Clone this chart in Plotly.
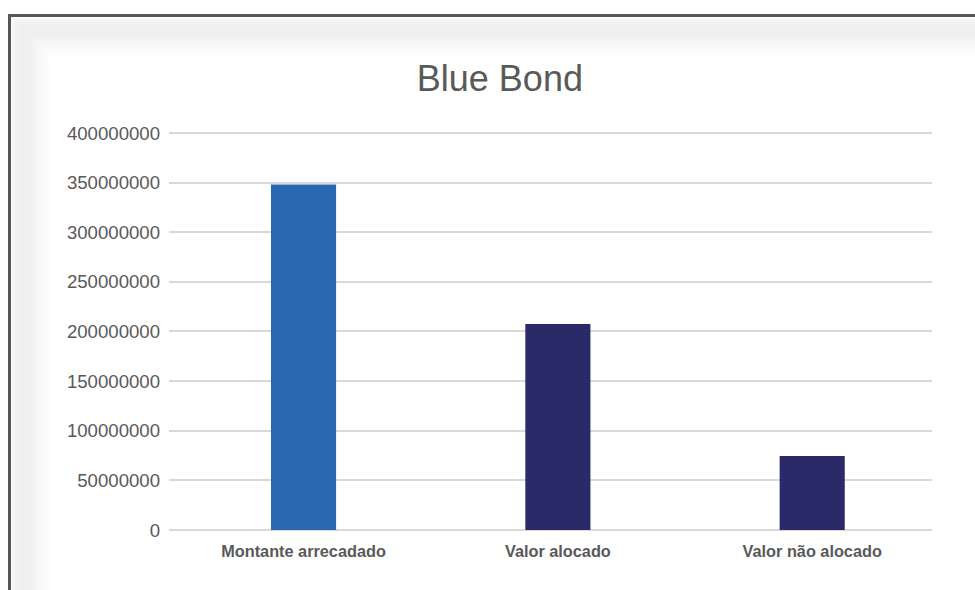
import plotly.graph_objects as go

categories = ["Montante arrecadado", "Valor alocado", "Valor não alocado"]
values = [348000000, 207500000, 74500000]
bar_colors = ["#2A68B1", "#2B2A69", "#2B2A69"]
y_ticks = [0, 50000000, 100000000, 150000000, 200000000, 250000000, 300000000, 350000000, 400000000]
y_tick_labels = [str(v) for v in y_ticks]
y_max = 402000000

W, H = 975, 590
L, R, T, B = 169, 932, 131, 530

def px(x):
    return (x - L) / (R - L)

def py(y):
    return (B - y) / (B - T)

fig = go.Figure()
fig.add_trace(go.Bar(
    x=[0, 1, 2], y=values, marker=dict(color=bar_colors, line=dict(width=0)),
    width=0.256, hoverinfo="skip"
))

def deficit(d):
    if d < 3:
        return 4 + d * 2.5
    if d < 10:
        return 11.5 + (d - 3) * 0.6
    if d < 18:
        return 15.5
    if d < 42:
        return 15.5 * (1 - (d - 18) / 24) ** 1.4
    return 0

shapes = []
N = 42
for i in range(N):
    g = int(round(255 - deficit(i)))
    col = f"rgb({g},{g},{g})"
    shapes.append(dict(type="line", xref="paper", yref="paper", layer="below",
                       x0=px(11.5 + i), x1=px(11.5 + i), y0=py(17 + i), y1=py(600),
                       line=dict(color=col, width=1)))
    shapes.append(dict(type="line", xref="paper", yref="paper", layer="below",
                       x0=px(11 + i), x1=px(985), y0=py(17.5 + i), y1=py(17.5 + i),
                       line=dict(color=col, width=1)))
# frame
shapes.append(dict(type="line", xref="paper", yref="paper",
                   x0=px(8), x1=px(985), y0=py(15.5), y1=py(15.5),
                   line=dict(color="#575757", width=3)))
shapes.append(dict(type="line", xref="paper", yref="paper",
                   x0=px(9.5), x1=px(9.5), y0=py(14), y1=py(600),
                   line=dict(color="#575757", width=3)))

font = "Liberation Sans, Arial, sans-serif"
fig.update_layout(
    width=W, height=H,
    margin=dict(l=L, r=W - R, t=T, b=H - B),
    paper_bgcolor="rgba(0,0,0,0)", plot_bgcolor="rgba(0,0,0,0)",
    showlegend=False,
    shapes=shapes,
    title=dict(text="Blue Bond", x=0.5127, xanchor="center", y=1 - 78 / H, yanchor="middle",
               font=dict(family=font, size=36, color="#595959")),
    xaxis=dict(
        tickmode="array", tickvals=[0, 1, 2], ticktext=[f"<b>{c}</b>" for c in categories],
        range=[-0.529, 2.471], showgrid=False, zeroline=False, showline=False, ticks="",
        ticklabelstandoff=10,
        tickfont=dict(family=font, size=16.3, color="#595959"),
        fixedrange=True,
    ),
    yaxis=dict(
        tickmode="array", tickvals=y_ticks, ticktext=y_tick_labels,
        range=[0, y_max], showgrid=True, gridcolor="#d9d9d9", gridwidth=1.6,
        zeroline=True, zerolinecolor="#d9d9d9", zerolinewidth=1.6,
        showline=False, ticks="", ticklabelstandoff=8,
        tickfont=dict(family=font, size=18.6, color="#595959"),
        fixedrange=True,
    ),
)

fig.write_html("out.html")
